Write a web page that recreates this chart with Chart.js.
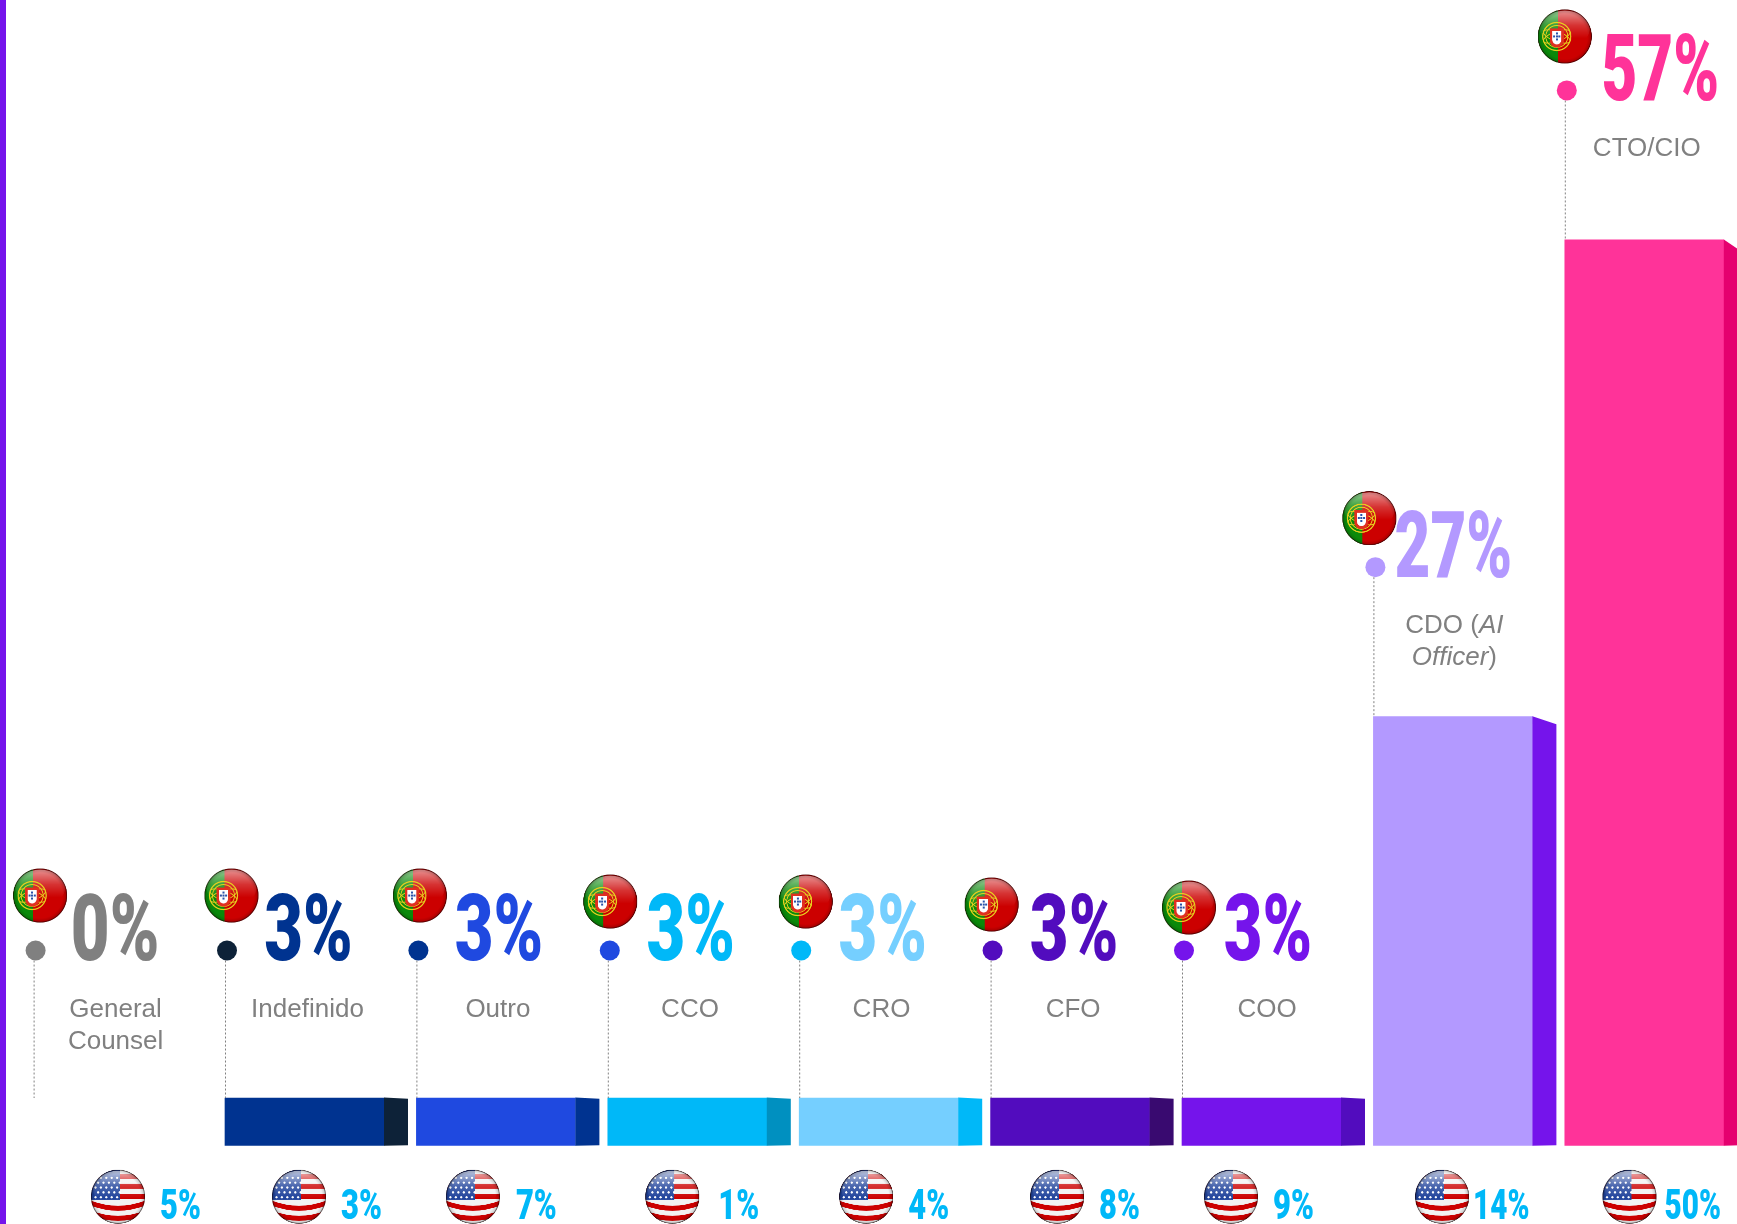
<!DOCTYPE html>
<html><head><meta charset="utf-8">
<style>html,body{margin:0;padding:0;background:#fff;overflow:hidden;width:1737px;height:1224px}#wrap{position:absolute;left:0;top:0;width:1740px;height:1224px}</style>
<script src="https://cdn.jsdelivr.net/npm/chart.js@4/dist/chart.umd.min.js"></script>
</head><body><div id="wrap"><canvas id="c"></canvas></div>
<script>
// data
const categories = ['General Counsel','Indefinido','Outro','CCO','CRO','CFO','COO','CDO (AI Officer)','CTO/CIO'];
const labelLines = [['General','Counsel'],['Indefinido'],['Outro'],['CCO'],['CRO'],['CFO'],['COO'],['CDO (*AI*','*Officer*)'],['CTO/CIO']];
const portugal = [0,3,3,3,3,3,3,27,57];
const usa = [5,3,7,1,4,8,9,14,50];
// colours
const barColors  = ['#808080','#003390','#1F49E0','#00B8F8','#75CFFF','#520CBE','#7514EB','#B399FF','#FF3399'];
const sideColors = ['#808080','#0D2238','#003390','#0090C0','#00B8F8','#390A70','#520CBE','#7514EB','#E5006F'];
const dotColors  = ['#808080','#0D2238','#003390','#1F49E0','#00B8F8','#520CBE','#7514EB','#B399FF','#FF3399'];
// layout offsets from each bar's left edge / its dot
const flagDx = [6.5,6.5,3.5,2.5,6.5,1,7,-4,0];
const flagDy = [-55,-55,-55,-49,-49,-46,-43,-49,-54];
const usFlagDx = [84.4,74,56.5,64.5,67,66.5,49,68.7,64.7];
const usTextDx = [42,42,43,46,42,42,42,31,35];
const labelDx = [82,82.5,81.5,82.2,82.3,82.5,85,81,82];
const pctDx = [81.5,83.5,82.5,83,83.5,83.5,86,80,95.5];

function sprite(draw){const s=document.createElement('canvas');s.width=s.height=216;const g=s.getContext('2d');g.scale(2,2);g.translate(54,54);draw(g);return s;}
function rim(g,R,a){
  let gl=g.createLinearGradient(0,-R,0,2);gl.addColorStop(0,'rgba(255,255,255,'+a+')');gl.addColorStop(.55,'rgba(255,255,255,.2)');gl.addColorStop(1,'rgba(255,255,255,0)');
  g.fillStyle=gl;g.beginPath();g.ellipse(0,-R*.28,R*.92,R*.68,0,0,7);g.fill();
  let rg=g.createRadialGradient(0,0,R*.84,0,0,R);rg.addColorStop(0,'rgba(0,0,0,0)');rg.addColorStop(.7,'rgba(0,0,0,.15)');rg.addColorStop(1,'rgba(20,0,0,.85)');
  g.fillStyle=rg;g.fillRect(-R,-R,2*R,2*R);
}
const ptSprite=sprite(g=>{const R=27;g.save();g.beginPath();g.arc(0,0,R,0,7);g.clip();
  g.fillStyle='#CC0000';g.fillRect(-R,-R,2*R,2*R);g.fillStyle='#0A8A0A';g.fillRect(-R,-R,R-7,2*R);
  rim(g,R,.6);
  const cx=-8,cy=0;
  g.strokeStyle='#E8D020';g.lineWidth=1.2;
  g.beginPath();g.arc(cx,cy,14,0,7);g.stroke();
  g.lineWidth=.9;g.beginPath();g.arc(cx,cy,11,0,7);g.stroke();
  g.beginPath();g.ellipse(cx,cy,14,5,.35,0,7);g.stroke();
  g.beginPath();g.ellipse(cx,cy,14,5,-.35,0,7);g.stroke();
  g.fillStyle='#E03020';g.fillRect(cx-7,cy-8,14,12);
  g.beginPath();g.arc(cx,cy+4,7,0,Math.PI);g.fill();
  g.fillStyle='#fff';g.fillRect(cx-4.5,cy-5.5,9,9);g.beginPath();g.arc(cx,cy+3.5,4.5,0,Math.PI);g.fill();
  g.fillStyle='#2A52A8';[[0,-3],[-2.6,0],[0,0],[2.6,0],[0,3]].forEach(p=>{g.fillRect(cx+p[0]-1,cy+p[1]-1,2,2);});
  g.restore();});
const usSprite=sprite(g=>{const R=27;g.save();g.beginPath();g.arc(0,0,R,0,7);g.clip();
  g.fillStyle='#F2F2F2';g.fillRect(-R,-R,2*R,2*R);
  g.fillStyle='#CC0000';
  [-20,-10.5,0].forEach(y=>{g.fillRect(-R,y-2.5,2*R,5);});
  [11,21].forEach(y=>{g.beginPath();g.moveTo(-R,y-7);g.quadraticCurveTo(0,y+3,R,y-7);g.lineTo(R,y-2);g.quadraticCurveTo(0,y+8,-R,y-2);g.closePath();g.fill();});
  g.fillStyle='#20439C';g.fillRect(-R,-R,R+2,R+3);
  g.fillStyle='#fff';
  for(let r=0;r<5;r++){for(let c=0;c<5;c++){g.beginPath();g.arc(-22.5+c*5.4+(r%2?2.6:0),-19+r*4.9,1.15,0,7);g.fill();}}
  rim(g,R,.75);g.restore();});

const overlay={id:'overlay',afterDatasetsDraw(chart){
  const {ctx,scales:{y}}=chart;const els=chart.getDatasetMeta(0).data;const base=y.getPixelForValue(0);
  ctx.save();
  ctx.fillStyle='#7514EB';ctx.fillRect(0,0,6,chart.height);
  const big='900 93px Roboto',small='900 43px Roboto';
  els.forEach((el,i)=>{
    const left=el.x-el.width/2,right=el.x+el.width/2;
    const top=y.getPixelForValue(Math.max(portugal[i],3));
    const dotY=top-147.5-(portugal[i]>3?2:0);
    if(portugal[i]>0){const h=base-el.y,drop=h*0.0177;
      ctx.fillStyle=sideColors[i];ctx.beginPath();ctx.moveTo(right,el.y-0.5);ctx.lineTo(right+24,el.y+drop);ctx.lineTo(right+24,base-0.5);ctx.lineTo(right,base);ctx.closePath();ctx.fill();}
    ctx.strokeStyle='#808080';ctx.lineWidth=1;ctx.setLineDash([2,2]);
    ctx.beginPath();ctx.moveTo(left+.5,dotY+10);ctx.lineTo(left+.5,top);ctx.stroke();ctx.setLineDash([]);
    ctx.fillStyle=dotColors[i];ctx.beginPath();ctx.arc(left+2,dotY,10,0,7);ctx.fill();
    ctx.textBaseline='alphabetic';ctx.textAlign='center';
    ctx.save();ctx.translate(left+pctDx[i],dotY+9.5);ctx.scale(portugal[i]>9?.665:.72,1);ctx.fillStyle=barColors[i];ctx.font=big;ctx.fillText(portugal[i]+'%',0,0);ctx.restore();
    ctx.fillStyle='#808080';
    labelLines[i].forEach((ln,k)=>{
      const parts=ln.split('*');const fonts=parts.map((_,n)=>(n%2?'italic ':'')+'26px "Liberation Sans", Arial, sans-serif');
      let w=0;parts.forEach((p,n)=>{ctx.font=fonts[n];w+=ctx.measureText(p).width;});
      let x=left+labelDx[i]-w/2;ctx.textAlign='left';
      parts.forEach((p,n)=>{ctx.font=fonts[n];ctx.fillText(p,x,dotY+66+k*32);x+=ctx.measureText(p).width;});
    });
    ctx.drawImage(ptSprite,left+flagDx[i]-54,dotY+flagDy[i]-54,108,108);
    ctx.drawImage(usSprite,left+usFlagDx[i]-54,base+51-54,108,108);
    ctx.save();ctx.textAlign='left';ctx.translate(left+usFlagDx[i]+usTextDx[i],base+73);ctx.scale(usa[i]>9?.69:.72,1);ctx.fillStyle='#00B8F8';ctx.font=small;ctx.fillText(usa[i]+'%',0,0);ctx.restore();
  });
  ctx.restore();
}};

new Chart(document.getElementById('c'),{
  type:'bar',
  data:{labels:categories,datasets:[{label:'Portugal',data:portugal,backgroundColor:portugal.map((v,i)=>v>0?barColors[i]:'rgba(0,0,0,0)'),borderWidth:0,barThickness:159}]},
  options:{responsive:true,maintainAspectRatio:false,animation:false,
    layout:{padding:{left:17.4,right:0,top:0,bottom:78.3}},
    plugins:{legend:{display:false},tooltip:{enabled:false}},
    scales:{x:{display:false},y:{display:false,min:0,max:72.1}}},
  plugins:[overlay]
});
</script></body></html>
